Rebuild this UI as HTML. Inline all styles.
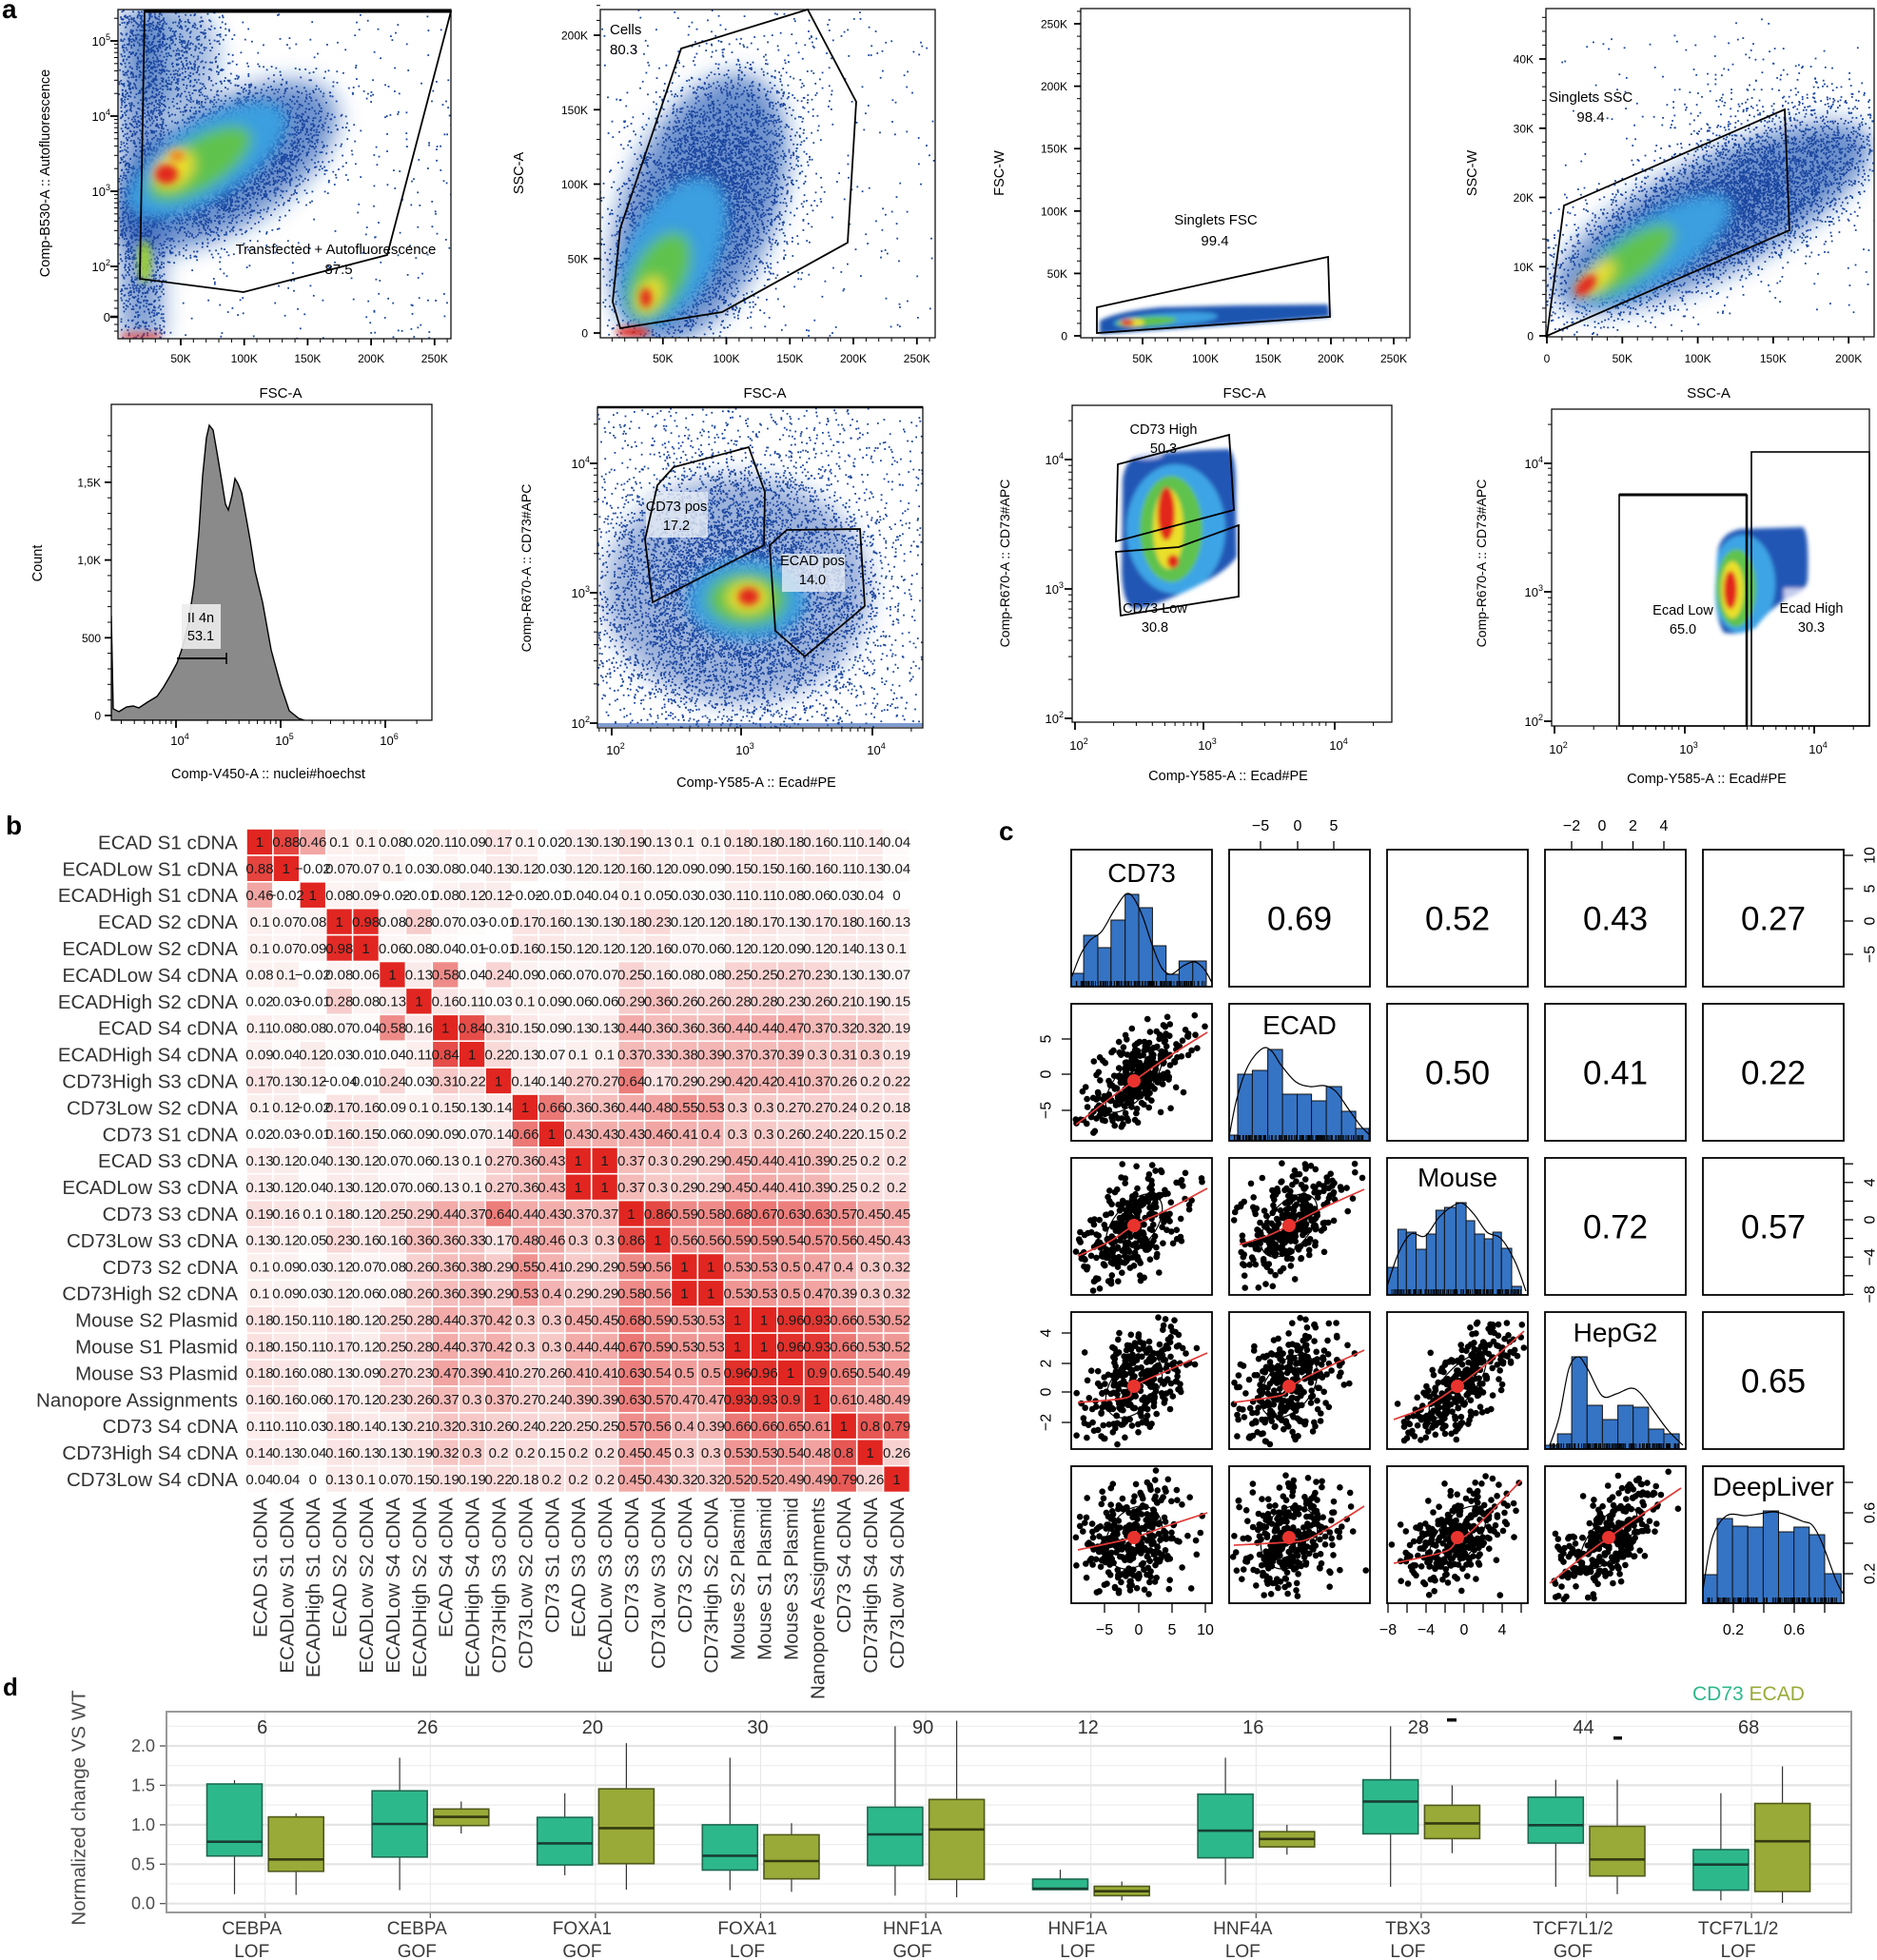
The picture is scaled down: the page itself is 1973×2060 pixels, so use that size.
<!DOCTYPE html>
<html><head><meta charset="utf-8">
<style>
html,body{margin:0;padding:0;background:#fff;width:1973px;height:2060px;overflow:hidden;}
svg{display:block;}
text{font-family:"Liberation Sans",Arial,sans-serif;}
</style></head>
<body>
<svg id="S" width="1973" height="2060" viewBox="0 0 1973 2060">
<defs>
<filter id="fb2" x="-30%" y="-30%" width="160%" height="160%"><feGaussianBlur stdDeviation="2"/></filter>
<filter id="fb4" x="-50%" y="-50%" width="200%" height="200%"><feGaussianBlur stdDeviation="4"/></filter>
<filter id="fb7" x="-50%" y="-50%" width="200%" height="200%"><feGaussianBlur stdDeviation="7"/></filter>
<filter id="fb12" x="-50%" y="-50%" width="200%" height="200%"><feGaussianBlur stdDeviation="12"/></filter>
<clipPath id="c1"><rect x="124" y="10" width="350" height="346"/></clipPath>
<clipPath id="c2"><rect x="631" y="10" width="352" height="345"/></clipPath>
<clipPath id="c3"><rect x="1136" y="9" width="346" height="346"/></clipPath>
<clipPath id="c4"><rect x="1625" y="9" width="345" height="345"/></clipPath>
<clipPath id="c5"><rect x="117" y="425" width="337" height="332"/></clipPath>
<clipPath id="c6"><rect x="628" y="428" width="342" height="337"/></clipPath>
<clipPath id="blob7"><path d="M1180,505 Q1182,482 1200,478 L1262,473 L1292,472 Q1300,480 1299,520 L1300,585 Q1290,600 1260,615 Q1220,635 1195,640 Q1180,640 1179,600 Z"/></clipPath>
<clipPath id="blob8"><path d="M1805,585 Q1806,560 1830,556 L1895,554 Q1902,560 1900,610 Q1898,622 1880,628 Q1860,640 1845,660 Q1830,668 1812,665 Q1803,650 1803,620 Z"/></clipPath>
</defs>

<!-- ============ PANEL A ============ -->
<text x="2" y="19" font-size="28" font-weight="bold">a</text>

<!-- Plot 1 -->
<g clip-path="url(#c1)">
 <g filter="url(#fb12)" fill="#1f55b0">
  <ellipse cx="235" cy="175" rx="135" ry="65" transform="rotate(-32 235 175)" opacity="0.65"/>
  <rect x="126" y="10" width="46" height="346" opacity="0.55"/>
  <ellipse cx="185" cy="60" rx="45" ry="60" opacity="0.4"/>
 </g>
 <g id="s1"></g>
 <g filter="url(#fb7)">
  <ellipse cx="218" cy="168" rx="95" ry="40" transform="rotate(-32 218 168)" fill="#3b9fe0"/>
  <ellipse cx="210" cy="172" rx="62" ry="26" transform="rotate(-32 210 172)" fill="#5ec24e"/>
  <ellipse cx="183" cy="178" rx="24" ry="17" transform="rotate(-40 183 178)" fill="#eadf2a"/>
 </g>
 <g filter="url(#fb4)">
  <ellipse cx="186" cy="164" rx="8" ry="6" fill="#f08a1e"/>
  <ellipse cx="175" cy="183" rx="12" ry="10" fill="#e2271b"/>
  <ellipse cx="152" cy="275" rx="7" ry="22" fill="#9ccf3c"/>
  <rect x="128" y="351" width="40" height="5" fill="#e2271b"/>
 </g>
</g>
<rect x="124" y="10" width="350" height="346" fill="none" stroke="#111" stroke-width="1.3"/>
<polygon points="152,12 474,12 407,268 256,307 147,293" fill="none" stroke="#000" stroke-width="1.8"/>
<line x1="152" y1="12" x2="474" y2="12" stroke="#000" stroke-width="3"/>
<text x="353" y="267" text-anchor="middle" font-size="15">Transfected + Autofluorescence</text>
<text x="356" y="288" text-anchor="middle" font-size="15">87.5</text>
<text transform="translate(48,182) rotate(-90)" text-anchor="middle" dominant-baseline="central" font-size="14.5">Comp-B530-A :: Autofluorescence</text>
<text x="295" y="418" text-anchor="middle" font-size="15">FSC-A</text>

<!-- Plot 2 -->
<g clip-path="url(#c2)">
 <g filter="url(#fb12)"><ellipse cx="735" cy="220" rx="80" ry="150" transform="rotate(22 735 220)" fill="#1f55b0" opacity="0.65"/></g>
 <g id="s2"></g>
 <g filter="url(#fb7)">
  <ellipse cx="708" cy="265" rx="45" ry="85" transform="rotate(28 708 265)" fill="#3b9fe0"/>
  <ellipse cx="693" cy="290" rx="27" ry="50" transform="rotate(28 693 290)" fill="#5ec24e"/>
  <ellipse cx="683" cy="310" rx="12" ry="20" transform="rotate(25 683 310)" fill="#eadf2a"/>
 </g>
 <g filter="url(#fb4)">
  <ellipse cx="679" cy="313" rx="6" ry="10" fill="#e2271b"/>
  <ellipse cx="665" cy="349" rx="18" ry="5" fill="#e2271b"/>
 </g>
</g>
<rect x="631" y="10" width="352" height="345" fill="none" stroke="#111" stroke-width="1.3"/>
<polygon points="652,345 644,317 652,240 716,51 849,10 900,107 891,255 759,328" fill="none" stroke="#000" stroke-width="1.8"/>
<text x="641" y="36" font-size="15">Cells</text>
<text x="641" y="57" font-size="15">80.3</text>
<text transform="translate(546,182) rotate(-90)" text-anchor="middle" dominant-baseline="central" font-size="14.5">SSC-A</text>
<text x="804" y="418" text-anchor="middle" font-size="15">FSC-A</text>

<!-- Plot 3 -->
<g clip-path="url(#c3)">
 <g filter="url(#fb2)">
  <path d="M1156,351 L1156,337 Q1175,327 1220,323 L1300,321 L1396,320 L1398,333 L1300,341 L1200,348 Z" fill="#1f55b0"/>
  <ellipse cx="1225" cy="336" rx="55" ry="7" transform="rotate(-4 1225 336)" fill="#3b9fe0"/>
  <ellipse cx="1205" cy="338" rx="32" ry="5" transform="rotate(-4 1205 338)" fill="#5ec24e"/>
  <ellipse cx="1190" cy="339" rx="13" ry="4" fill="#eadf2a"/>
  <ellipse cx="1185" cy="339" rx="7" ry="3" fill="#e2271b"/>
 </g>
</g>
<rect x="1136" y="9" width="346" height="346" fill="none" stroke="#111" stroke-width="1.3"/>
<polygon points="1153,323 1396,270 1398,333 1153,350" fill="none" stroke="#000" stroke-width="1.8"/>
<text x="1278" y="236" text-anchor="middle" font-size="15">Singlets FSC</text>
<text x="1277" y="258" text-anchor="middle" font-size="15">99.4</text>
<text transform="translate(1051,182) rotate(-90)" text-anchor="middle" dominant-baseline="central" font-size="14.5">FSC-W</text>
<text x="1308" y="418" text-anchor="middle" font-size="15">FSC-A</text>

<!-- Plot 4 -->
<g clip-path="url(#c4)">
 <g filter="url(#fb12)"><ellipse cx="1800" cy="228" rx="185" ry="60" transform="rotate(-27 1800 228)" fill="#1f55b0" opacity="0.65"/></g>
 <g id="s4"></g>
 <g filter="url(#fb7)">
  <ellipse cx="1738" cy="262" rx="95" ry="33" transform="rotate(-32 1738 262)" fill="#3b9fe0"/>
  <ellipse cx="1712" cy="274" rx="58" ry="21" transform="rotate(-36 1712 274)" fill="#5ec24e"/>
  <ellipse cx="1678" cy="292" rx="25" ry="11" transform="rotate(-42 1678 292)" fill="#eadf2a"/>
 </g>
 <g filter="url(#fb4)"><ellipse cx="1667" cy="300" rx="14" ry="7" transform="rotate(-45 1667 300)" fill="#e2271b"/></g>
</g>
<rect x="1625" y="9" width="345" height="345" fill="none" stroke="#111" stroke-width="1.3"/>
<polygon points="1626,353 1644,216 1876,115 1881,242" fill="none" stroke="#000" stroke-width="1.8"/>
<text x="1672" y="107" text-anchor="middle" font-size="15">Singlets SSC</text>
<text x="1672" y="128" text-anchor="middle" font-size="15">98.4</text>
<text transform="translate(1548,182) rotate(-90)" text-anchor="middle" dominant-baseline="central" font-size="14.5">SSC-W</text>
<text x="1796" y="418" text-anchor="middle" font-size="15">SSC-A</text>

<!-- Plot 5 histogram -->
<g clip-path="url(#c5)">
 <path d="M117,757 L117,647 L119,745 L125,748 L133,743 L140,742 L146,744 L155,738 L165,732 L172,722 L179,710 L186,697 L192,680 L198,655 L204,615 L209,560 L213,500 L217,460 L220,447 L224,452 L228,475 L233,505 L237,530 L240,536 L244,520 L247,503 L250,508 L254,518 L258,540 L263,568 L268,600 L276,633 L285,683 L295,720 L304,747 L314,755 L320,757 Z" fill="#8a8a8a" stroke="#000" stroke-width="1.4"/>
</g>
<rect x="117" y="425" width="337" height="332" fill="none" stroke="#111" stroke-width="1.3"/>
<rect x="191" y="635" width="41" height="47" fill="#ececec" opacity="0.9"/>
<line x1="186" y1="692" x2="238" y2="692" stroke="#000" stroke-width="2"/>
<line x1="238" y1="686" x2="238" y2="698" stroke="#000" stroke-width="1.5"/>
<text x="211" y="654" text-anchor="middle" font-size="14.5">II 4n</text>
<text x="211" y="673" text-anchor="middle" font-size="14.5">53.1</text>
<text transform="translate(40,592) rotate(-90)" text-anchor="middle" dominant-baseline="central" font-size="14.5">Count</text>
<text x="282" y="818" text-anchor="middle" font-size="14.5">Comp-V450-A :: nuclei#hoechst</text>

<!-- Plot 6 -->
<g clip-path="url(#c6)">
 <g filter="url(#fb12)"><ellipse cx="775" cy="620" rx="140" ry="120" fill="#1f55b0" opacity="0.45"/></g>
 <g id="s6"></g>
 <g filter="url(#fb7)">
  <ellipse cx="785" cy="630" rx="62" ry="42" fill="#3b9fe0"/>
  <ellipse cx="785" cy="630" rx="42" ry="28" fill="#5ec24e"/>
  <ellipse cx="786" cy="628" rx="22" ry="16" fill="#eadf2a"/>
 </g>
 <g filter="url(#fb4)"><ellipse cx="787" cy="627" rx="11" ry="9" fill="#e2271b"/></g>
 <rect x="628" y="760" width="342" height="4" fill="#2a5ab0" opacity="0.6"/>
</g>
<rect x="628" y="428" width="342" height="337" fill="none" stroke="#111" stroke-width="1.3"/>
<line x1="628" y1="428" x2="970" y2="428" stroke="#000" stroke-width="2.5"/>
<rect x="679" y="517" width="65" height="48" fill="#e6ecf5" opacity="0.8"/>
<rect x="822" y="582" width="66" height="40" fill="#e6ecf5" opacity="0.8"/>
<polygon points="686,633 678,567 691,510 708,491 787,470 804,517 803,573" fill="none" stroke="#000" stroke-width="1.8"/>
<polygon points="809,573 827,557 904,556 909,637 846,690 815,663" fill="none" stroke="#000" stroke-width="1.8"/>
<text x="711" y="537" text-anchor="middle" font-size="14.5">CD73 pos</text>
<text x="711" y="557" text-anchor="middle" font-size="14.5">17.2</text>
<text x="854" y="594" text-anchor="middle" font-size="14.5">ECAD pos</text>
<text x="854" y="614" text-anchor="middle" font-size="14.5">14.0</text>
<text transform="translate(553,597) rotate(-90)" text-anchor="middle" dominant-baseline="central" font-size="14">Comp-R670-A :: CD73#APC</text>
<text x="795" y="827" text-anchor="middle" font-size="14.5">Comp-Y585-A :: Ecad#PE</text>

<!-- Plot 7 -->
<g filter="url(#fb2)">
 <path d="M1180,505 Q1182,482 1200,478 L1262,473 L1292,472 Q1300,480 1299,520 L1300,585 Q1290,600 1260,615 Q1220,635 1195,640 Q1180,640 1179,600 Z" fill="#2056b5"/>
 <g clip-path="url(#blob7)">
  <ellipse cx="1236" cy="556" rx="52" ry="68" fill="#3ea4e6"/>
  <ellipse cx="1231" cy="556" rx="33" ry="56" fill="#5ec24e"/>
  <ellipse cx="1228" cy="556" rx="16" ry="42" fill="#eadf2a"/>
  <ellipse cx="1226" cy="540" rx="9" ry="28" fill="#e2271b"/>
  <ellipse cx="1233" cy="590" rx="6" ry="7" fill="#e2271b"/>
  <ellipse cx="1205" cy="477" rx="18" ry="6" fill="#b8c4ea"/>
 </g>
</g>
<rect x="1127" y="426" width="336" height="333" fill="none" stroke="#111" stroke-width="1.3"/>
<polygon points="1175,488 1292,457 1297,536 1173,569" fill="none" stroke="#000" stroke-width="1.8"/>
<polygon points="1173,580 1239,575 1302,552 1302,627 1178,647" fill="none" stroke="#000" stroke-width="1.8"/>
<text x="1223" y="456" text-anchor="middle" font-size="14.5">CD73 High</text>
<text x="1223" y="476" text-anchor="middle" font-size="14.5">50.3</text>
<text x="1214" y="644" text-anchor="middle" font-size="14.5">CD73 Low</text>
<text x="1214" y="664" text-anchor="middle" font-size="14.5">30.8</text>
<text transform="translate(1056,592) rotate(-90)" text-anchor="middle" dominant-baseline="central" font-size="14">Comp-R670-A :: CD73#APC</text>
<text x="1291" y="820" text-anchor="middle" font-size="14.5">Comp-Y585-A :: Ecad#PE</text>

<!-- Plot 8 -->
<g filter="url(#fb2)">
 <path d="M1805,585 Q1806,560 1830,556 L1895,554 Q1902,560 1900,610 Q1898,622 1880,628 Q1860,640 1845,660 Q1830,668 1812,665 Q1803,650 1803,620 Z" fill="#2056b5"/>
 <g clip-path="url(#blob8)">
  <ellipse cx="1832" cy="614" rx="34" ry="52" fill="#3ea4e6"/>
  <ellipse cx="1825" cy="618" rx="21" ry="41" fill="#5ec24e"/>
  <ellipse cx="1821" cy="620" rx="12" ry="30" fill="#eadf2a"/>
  <ellipse cx="1819" cy="620" rx="7" ry="20" fill="#e2271b"/>
  <rect x="1875" y="618" width="28" height="14" fill="#c4cbec"/>
 </g>
</g>
<rect x="1631" y="430" width="334" height="333" fill="none" stroke="#111" stroke-width="1.3"/>
<rect x="1702" y="520" width="134" height="243" fill="none" stroke="#000" stroke-width="1.6"/>
<line x1="1702" y1="520" x2="1836" y2="520" stroke="#000" stroke-width="3"/>
<line x1="1836" y1="520" x2="1836" y2="763" stroke="#000" stroke-width="2.5"/>
<rect x="1841" y="475" width="124" height="288" fill="none" stroke="#000" stroke-width="1.6"/>
<text x="1769" y="646" text-anchor="middle" font-size="14.5">Ecad Low</text>
<text x="1769" y="666" text-anchor="middle" font-size="14.5">65.0</text>
<text x="1904" y="644" text-anchor="middle" font-size="14.5">Ecad High</text>
<text x="1904" y="664" text-anchor="middle" font-size="14.5">30.3</text>
<text transform="translate(1557,592) rotate(-90)" text-anchor="middle" dominant-baseline="central" font-size="14">Comp-R670-A :: CD73#APC</text>
<text x="1794" y="823" text-anchor="middle" font-size="14.5">Comp-Y585-A :: Ecad#PE</text>

<g id="ax"></g>

<!-- ============ PANEL B ============ -->
<text x="6" y="877" font-size="28" font-weight="bold">b</text>
<g id="hm"></g>
<g font-size="20.5" fill="#333" text-anchor="end">
<text x="250" y="892.4">ECAD S1 cDNA</text>
<text x="250" y="920.3">ECADLow S1 cDNA</text>
<text x="250" y="948.2">ECADHigh S1 cDNA</text>
<text x="250" y="976.1">ECAD S2 cDNA</text>
<text x="250" y="1004">ECADLow S2 cDNA</text>
<text x="250" y="1031.9">ECADLow S4 cDNA</text>
<text x="250" y="1059.8">ECADHigh S2 cDNA</text>
<text x="250" y="1087.7">ECAD S4 cDNA</text>
<text x="250" y="1115.6">ECADHigh S4 cDNA</text>
<text x="250" y="1143.5">CD73High S3 cDNA</text>
<text x="250" y="1171.4">CD73Low S2 cDNA</text>
<text x="250" y="1199.3">CD73 S1 cDNA</text>
<text x="250" y="1227.2">ECAD S3 cDNA</text>
<text x="250" y="1255.1">ECADLow S3 cDNA</text>
<text x="250" y="1283">CD73 S3 cDNA</text>
<text x="250" y="1310.9">CD73Low S3 cDNA</text>
<text x="250" y="1338.8">CD73 S2 cDNA</text>
<text x="250" y="1366.7">CD73High S2 cDNA</text>
<text x="250" y="1394.6">Mouse S2 Plasmid</text>
<text x="250" y="1422.5">Mouse S1 Plasmid</text>
<text x="250" y="1450.4">Mouse S3 Plasmid</text>
<text x="250" y="1478.3">Nanopore Assignments</text>
<text x="250" y="1506.2">CD73 S4 cDNA</text>
<text x="250" y="1534.1">CD73High S4 cDNA</text>
<text x="250" y="1562">CD73Low S4 cDNA</text>
</g>
<g font-size="20.5" fill="#333" text-anchor="end">
<text transform="translate(280.35,1574) rotate(-90)">ECAD S1 cDNA</text>
<text transform="translate(308.25,1574) rotate(-90)">ECADLow S1 cDNA</text>
<text transform="translate(336.15,1574) rotate(-90)">ECADHigh S1 cDNA</text>
<text transform="translate(364.05,1574) rotate(-90)">ECAD S2 cDNA</text>
<text transform="translate(391.95,1574) rotate(-90)">ECADLow S2 cDNA</text>
<text transform="translate(419.85,1574) rotate(-90)">ECADLow S4 cDNA</text>
<text transform="translate(447.75,1574) rotate(-90)">ECADHigh S2 cDNA</text>
<text transform="translate(475.65,1574) rotate(-90)">ECAD S4 cDNA</text>
<text transform="translate(503.55,1574) rotate(-90)">ECADHigh S4 cDNA</text>
<text transform="translate(531.45,1574) rotate(-90)">CD73High S3 cDNA</text>
<text transform="translate(559.35,1574) rotate(-90)">CD73Low S2 cDNA</text>
<text transform="translate(587.25,1574) rotate(-90)">CD73 S1 cDNA</text>
<text transform="translate(615.15,1574) rotate(-90)">ECAD S3 cDNA</text>
<text transform="translate(643.05,1574) rotate(-90)">ECADLow S3 cDNA</text>
<text transform="translate(670.95,1574) rotate(-90)">CD73 S3 cDNA</text>
<text transform="translate(698.85,1574) rotate(-90)">CD73Low S3 cDNA</text>
<text transform="translate(726.75,1574) rotate(-90)">CD73 S2 cDNA</text>
<text transform="translate(754.65,1574) rotate(-90)">CD73High S2 cDNA</text>
<text transform="translate(782.55,1574) rotate(-90)">Mouse S2 Plasmid</text>
<text transform="translate(810.45,1574) rotate(-90)">Mouse S1 Plasmid</text>
<text transform="translate(838.35,1574) rotate(-90)">Mouse S3 Plasmid</text>
<text transform="translate(866.25,1574) rotate(-90)">Nanopore Assignments</text>
<text transform="translate(894.15,1574) rotate(-90)">CD73 S4 cDNA</text>
<text transform="translate(922.05,1574) rotate(-90)">CD73High S4 cDNA</text>
<text transform="translate(949.95,1574) rotate(-90)">CD73Low S4 cDNA</text>
</g>

<!-- ============ PANEL C ============ -->
<text x="1050" y="883" font-size="28" font-weight="bold">c</text>
<g id="pc"></g>
<g fill="none" stroke="#000" stroke-width="1.8">
<rect x="1126" y="893" width="148" height="144"/><rect x="1292" y="893" width="148" height="144"/><rect x="1458" y="893" width="148" height="144"/><rect x="1624" y="893" width="148" height="144"/><rect x="1790" y="893" width="148" height="144"/>
<rect x="1126" y="1055" width="148" height="144"/><rect x="1292" y="1055" width="148" height="144"/><rect x="1458" y="1055" width="148" height="144"/><rect x="1624" y="1055" width="148" height="144"/><rect x="1790" y="1055" width="148" height="144"/>
<rect x="1126" y="1217" width="148" height="144"/><rect x="1292" y="1217" width="148" height="144"/><rect x="1458" y="1217" width="148" height="144"/><rect x="1624" y="1217" width="148" height="144"/><rect x="1790" y="1217" width="148" height="144"/>
<rect x="1126" y="1379" width="148" height="144"/><rect x="1292" y="1379" width="148" height="144"/><rect x="1458" y="1379" width="148" height="144"/><rect x="1624" y="1379" width="148" height="144"/><rect x="1790" y="1379" width="148" height="144"/>
<rect x="1126" y="1541" width="148" height="144"/><rect x="1292" y="1541" width="148" height="144"/><rect x="1458" y="1541" width="148" height="144"/><rect x="1624" y="1541" width="148" height="144"/><rect x="1790" y="1541" width="148" height="144"/>
</g>
<g font-size="35" text-anchor="middle" fill="#000">
<text x="1366" y="977.5">0.69</text><text x="1532" y="977.5">0.52</text><text x="1698" y="977.5">0.43</text><text x="1864" y="977.5">0.27</text>
<text x="1532" y="1139.5">0.50</text><text x="1698" y="1139.5">0.41</text><text x="1864" y="1139.5">0.22</text>
<text x="1698" y="1301.5">0.72</text><text x="1864" y="1301.5">0.57</text>
<text x="1864" y="1463.5">0.65</text>
</g>
<g font-size="28" text-anchor="middle" fill="#000">
<text x="1200" y="927">CD73</text>
<text x="1366" y="1087">ECAD</text>
<text x="1532" y="1247">Mouse</text>
<text x="1698" y="1410">HepG2</text>
<text x="1864" y="1572">DeepLiver</text>
</g>
<g id="pcax"></g>

<!-- ============ PANEL D ============ -->
<text x="3" y="1782" font-size="26" font-weight="bold">d</text>
<rect x="175" y="1799" width="1771" height="211" fill="#fff"/>
<g id="pd"></g>
<rect x="175" y="1799" width="1771" height="211" fill="none" stroke="#9a9a9a" stroke-width="2"/>
<text transform="translate(83,1900) rotate(-90)" text-anchor="middle" dominant-baseline="central" font-size="20.5" fill="#4d4d4d">Normalized change VS WT</text>
<text x="1779" y="1787" font-size="21"><tspan fill="#2db88c">CD73</tspan> <tspan fill="#9aaa38">ECAD</tspan></text>
</svg>

<script>
(function(){
var seed=20240601;
function rnd(){seed|=0;seed=seed+0x6D2B79F5|0;var t=Math.imul(seed^(seed>>>15),1|seed);t=(t+Math.imul(t^(t>>>7),61|t))^t;return((t^(t>>>14))>>>0)/4294967296;}
function gs(){var u=rnd();if(u<1e-9)u=1e-9;return Math.sqrt(-2*Math.log(u))*Math.cos(6.283185307*rnd());}
function f(n){return Math.round(n*10)/10;}
var buf={};
function add(id,s){buf[id]=(buf[id]||'')+s;}
function ln(id,x1,y1,x2,y2,w,c){add(id,'<line x1="'+f(x1)+'" y1="'+f(y1)+'" x2="'+f(x2)+'" y2="'+f(y2)+'" stroke="'+(c||'#000')+'" stroke-width="'+(w||1)+'"/>');}
function tx(id,x,y,s,o){o=o||{};add(id,'<text x="'+f(x)+'" y="'+f(y)+'"'+(o.a?' text-anchor="'+o.a+'"':'')+' font-size="'+(o.s||12)+'"'+(o.c?' fill="'+o.c+'"':'')+'>'+s+'</text>');}
function rtx(id,x,y,s,sz){add(id,'<text transform="translate('+f(x)+','+f(y)+') rotate(-90)" text-anchor="middle" dominant-baseline="central" font-size="'+sz+'">'+s+'</text>');}
function sup(e){return '10<tspan dy="-6" font-size="9">'+e+'</tspan>';}

/* speckle */
function speck(id,n,cx,cy,sx,sy,ang,col,sz){var s='',a=ang*Math.PI/180,c=Math.cos(a),si=Math.sin(a);
 for(var i=0;i<n;i++){var p=gs()*sx,q=gs()*sy;var x=cx+p*c-q*si,y=cy+p*si+q*c;
 s+='<rect x="'+f(x)+'" y="'+f(y)+'" width="'+sz+'" height="'+sz+'" fill="'+col+'"/>';}add(id,s);}
function speckU(id,n,x0,y0,x1,y1,col,sz){var s='';for(var i=0;i<n;i++){var x=x0+rnd()*(x1-x0),y=y0+rnd()*(y1-y0);
 s+='<rect x="'+f(x)+'" y="'+f(y)+'" width="'+sz+'" height="'+sz+'" fill="'+col+'"/>';}add(id,s);}
var B='#1b46a0';
speck('s1',4200,235,172,58,30,-32,B,1.8);
speckU('s1',1300,126,10,172,354,B,1.8);
speck('s1',800,185,60,30,45,0,B,1.8);
speckU('s1',350,124,10,474,356,B,1.8);
speck('s2',5500,740,215,40,72,22,B,1.8);
speckU('s2',300,631,10,983,355,B,1.8);
speck('s4',6000,1795,228,88,30,-27,B,1.8);
speck('s4',700,1860,165,60,50,0,B,1.8);
speckU('s4',180,1640,40,1970,330,B,1.8);
speck('s6',7000,775,620,72,66,0,B,1.8);
speckU('s6',1200,628,428,970,765,B,1.8);

/* flow axes */
function linX(id,y,x0,ppu,majV,minStep,maxV,labs,ly){
 majV.forEach(function(v,i){var x=x0+v*ppu;ln(id,x,y,x,y+7,1.8);if(labs[i])tx(id,x,ly,labs[i],{a:'middle',s:12});});
 for(var v=minStep;v<=maxV+1e-6;v+=minStep){var x=x0+v*ppu;ln(id,x,y,x,y+4,1);}}
function linY(id,x,y0,ppu,majV,minStep,maxV,labs,lx){
 majV.forEach(function(v,i){var y=y0-v*ppu;ln(id,x,y,x-7,y,1.8);if(labs[i])tx(id,lx,y+4.5,labs[i],{a:'end',s:12});});
 for(var v=minStep;v<=maxV+1e-6;v+=minStep){var y=y0-v*ppu;ln(id,x,y,x-4,y,1);}}
function logY(id,x,maj,lo,hi,exps,lx){var st=maj[0]-maj[1];
 for(var i=-1;i<maj.length;i++){var base=(i<0?maj[0]+st:maj[i]);for(var k=2;k<10;k++){var y=base-st*Math.log10(k);if(y>=lo&&y<=hi)ln(id,x,y,x-4,y,1);}}
 maj.forEach(function(y,i){ln(id,x,y,x-8,y,1.8);tx(id,lx,y+5,sup(exps[i]),{a:'end',s:13});});}
function logX(id,y,maj,lo,hi,exps,ly){var st=maj[1]-maj[0];
 for(var i=-1;i<maj.length;i++){var base=(i<0?maj[0]-st:maj[i]);for(var k=2;k<10;k++){var x=base+st*Math.log10(k);if(x>=lo&&x<=hi)ln(id,x,y,x,y+4,1);}}
 maj.forEach(function(x,i){ln(id,x,y,x,y+8,1.8);tx(id,x+4,ly,sup(exps[i]),{a:'middle',s:13});});}
var A='ax', K5=['50K','100K','150K','200K','250K'];
logY(A,124,[280,201,122,43],10,285,['2','3','4','5'],116);
[292,304,316,324,341,348].forEach(function(y){ln(A,124,y,120,y,1);});
ln(A,124,333,116,333,2.5);tx(A,116,338,'0',{a:'end',s:13});
linX(A,356,123.3,66.7/50,[50,100,150,200,250],10,260,K5,381);
linY(A,631,350,78.25/50,[0,50,100,150,200],10,220,['0','50K','100K','150K','200K'],618);
linX(A,355,630,66.75/50,[50,100,150,200,250],10,260,K5,381);
linY(A,1136,353,65.6/50,[0,50,100,150,200,250],10,260,['0','50K','100K','150K','200K','250K'],1122);
linX(A,355,1135,66/50,[50,100,150,200,250],10,260,K5,381);
linY(A,1625,353,72.75/10,[0,10,20,30,40],2,46,['0','10K','20K','30K','40K'],1612);
linX(A,354,1626,79.3/50,[0,50,100,150,200],10,210,['0','50K','100K','150K','200K'],381);
linY(A,117,752,81.7/500,[0,500,1000,1500],100,1800,['0','500','1,0K','1,5K'],106);
logX(A,757,[185,295,405],117,454,['4','5','6'],783);
logY(A,628,[760,623,487],428,765,['2','3','4'],620);
logX(A,765,[643,779,917],628,970,['2','3','4'],793);
logY(A,1127,[755,619,483],426,759,['2','3','4'],1118);
logX(A,759,[1130,1265,1403],1127,1463,['2','3','4'],788);
logY(A,1631,[758,622,487],430,763,['2','3','4'],1622);
logX(A,763,[1634,1771,1907],1631,1965,['2','3','4'],792);

/* heatmap */
var M=[
[1,0.88,0.46,0.1,0.1,0.08,0.02,0.11,0.09,0.17,0.1,0.02,0.13,0.13,0.19,0.13,0.1,0.1,0.18,0.18,0.18,0.16,0.11,0.14,0.04],
[0.88,1,-0.02,0.07,0.07,0.1,0.03,0.08,0.04,0.13,0.12,0.03,0.12,0.12,0.16,0.12,0.09,0.09,0.15,0.15,0.16,0.16,0.11,0.13,0.04],
[0.46,-0.02,1,0.08,0.09,-0.02,-0.01,0.08,0.12,0.12,-0.02,-0.01,0.04,0.04,0.1,0.05,0.03,0.03,0.11,0.11,0.08,0.06,0.03,0.04,0],
[0.1,0.07,0.08,1,0.98,0.08,0.28,0.07,0.03,-0.01,0.17,0.16,0.13,0.13,0.18,0.23,0.12,0.12,0.18,0.17,0.13,0.17,0.18,0.16,0.13],
[0.1,0.07,0.09,0.98,1,0.06,0.08,0.04,0.01,-0.01,0.16,0.15,0.12,0.12,0.12,0.16,0.07,0.06,0.12,0.12,0.09,0.12,0.14,0.13,0.1],
[0.08,0.1,-0.02,0.08,0.06,1,0.13,0.58,0.04,0.24,0.09,0.06,0.07,0.07,0.25,0.16,0.08,0.08,0.25,0.25,0.27,0.23,0.13,0.13,0.07],
[0.02,0.03,-0.01,0.28,0.08,0.13,1,0.16,0.11,0.03,0.1,0.09,0.06,0.06,0.29,0.36,0.26,0.26,0.28,0.28,0.23,0.26,0.21,0.19,0.15],
[0.11,0.08,0.08,0.07,0.04,0.58,0.16,1,0.84,0.31,0.15,0.09,0.13,0.13,0.44,0.36,0.36,0.36,0.44,0.44,0.47,0.37,0.32,0.32,0.19],
[0.09,0.04,0.12,0.03,0.01,0.04,0.11,0.84,1,0.22,0.13,0.07,0.1,0.1,0.37,0.33,0.38,0.39,0.37,0.37,0.39,0.3,0.31,0.3,0.19],
[0.17,0.13,0.12,-0.04,0.01,0.24,0.03,0.31,0.22,1,0.14,0.14,0.27,0.27,0.64,0.17,0.29,0.29,0.42,0.42,0.41,0.37,0.26,0.2,0.22],
[0.1,0.12,-0.02,0.17,0.16,0.09,0.1,0.15,0.13,0.14,1,0.66,0.36,0.36,0.44,0.48,0.55,0.53,0.3,0.3,0.27,0.27,0.24,0.2,0.18],
[0.02,0.03,-0.01,0.16,0.15,0.06,0.09,0.09,0.07,0.14,0.66,1,0.43,0.43,0.43,0.46,0.41,0.4,0.3,0.3,0.26,0.24,0.22,0.15,0.2],
[0.13,0.12,0.04,0.13,0.12,0.07,0.06,0.13,0.1,0.27,0.36,0.43,1,1,0.37,0.3,0.29,0.29,0.45,0.44,0.41,0.39,0.25,0.2,0.2],
[0.13,0.12,0.04,0.13,0.12,0.07,0.06,0.13,0.1,0.27,0.36,0.43,1,1,0.37,0.3,0.29,0.29,0.45,0.44,0.41,0.39,0.25,0.2,0.2],
[0.19,0.16,0.1,0.18,0.12,0.25,0.29,0.44,0.37,0.64,0.44,0.43,0.37,0.37,1,0.86,0.59,0.58,0.68,0.67,0.63,0.63,0.57,0.45,0.45],
[0.13,0.12,0.05,0.23,0.16,0.16,0.36,0.36,0.33,0.17,0.48,0.46,0.3,0.3,0.86,1,0.56,0.56,0.59,0.59,0.54,0.57,0.56,0.45,0.43],
[0.1,0.09,0.03,0.12,0.07,0.08,0.26,0.36,0.38,0.29,0.55,0.41,0.29,0.29,0.59,0.56,1,1,0.53,0.53,0.5,0.47,0.4,0.3,0.32],
[0.1,0.09,0.03,0.12,0.06,0.08,0.26,0.36,0.39,0.29,0.53,0.4,0.29,0.29,0.58,0.56,1,1,0.53,0.53,0.5,0.47,0.39,0.3,0.32],
[0.18,0.15,0.11,0.18,0.12,0.25,0.28,0.44,0.37,0.42,0.3,0.3,0.45,0.45,0.68,0.59,0.53,0.53,1,1,0.96,0.93,0.66,0.53,0.52],
[0.18,0.15,0.11,0.17,0.12,0.25,0.28,0.44,0.37,0.42,0.3,0.3,0.44,0.44,0.67,0.59,0.53,0.53,1,1,0.96,0.93,0.66,0.53,0.52],
[0.18,0.16,0.08,0.13,0.09,0.27,0.23,0.47,0.39,0.41,0.27,0.26,0.41,0.41,0.63,0.54,0.5,0.5,0.96,0.96,1,0.9,0.65,0.54,0.49],
[0.16,0.16,0.06,0.17,0.12,0.23,0.26,0.37,0.3,0.37,0.27,0.24,0.39,0.39,0.63,0.57,0.47,0.47,0.93,0.93,0.9,1,0.61,0.48,0.49],
[0.11,0.11,0.03,0.18,0.14,0.13,0.21,0.32,0.31,0.26,0.24,0.22,0.25,0.25,0.57,0.56,0.4,0.39,0.66,0.66,0.65,0.61,1,0.8,0.79],
[0.14,0.13,0.04,0.16,0.13,0.13,0.19,0.32,0.3,0.2,0.2,0.15,0.2,0.2,0.45,0.45,0.3,0.3,0.53,0.53,0.54,0.48,0.8,1,0.26],
[0.04,0.04,0,0.13,0.1,0.07,0.15,0.19,0.19,0.22,0.18,0.2,0.2,0.2,0.45,0.43,0.32,0.32,0.52,0.52,0.49,0.49,0.79,0.26,1]];
function hcol(v){var t=Math.max(0,Math.min(1,v));var p=Math.pow(t,1.15);return 'rgb('+Math.round(255-30*t)+','+Math.round(255-217*p)+','+Math.round(255-222*p)+')';}
var hs='',ht='';
for(var i=0;i<25;i++)for(var j=0;j<25;j++){var v=M[i][j],x=259+27.9*j,y=871+27.9*i;
 if(v>0)hs+='<rect x="'+f(x+0.8)+'" y="'+f(y+0.8)+'" width="26.3" height="26.3" fill="'+hcol(v)+'"/>';
 ht+='<text x="'+f(x+13.95)+'" y="'+f(y+19.2)+'" text-anchor="middle" font-size="15" fill="#1a1a1a">'+(v<0?'\u2212'+String(-v):String(v))+'</text>';}
add('hm',hs+ht);

/* panel c */
function smooth(p){var d='M'+f(p[0][0])+','+f(p[0][1]);for(var i=0;i<p.length-1;i++){var p0=p[i-1]||p[i],p1=p[i],p2=p[i+1],p3=p[i+2]||p2;
 d+='C'+f(p1[0]+(p2[0]-p0[0])/6)+','+f(p1[1]+(p2[1]-p0[1])/6)+' '+f(p2[0]-(p3[0]-p1[0])/6)+','+f(p2[1]-(p3[1]-p1[1])/6)+' '+f(p2[0])+','+f(p2[1]);}return d;}
var X0=[1126,1292,1458,1624,1790],Y0=[893,1055,1217,1379,1541];
function hist(c,edges,tops,curve){var x0=X0[c],y0=Y0[c],s='';
 for(var i=0;i<tops.length;i++)s+='<rect x="'+f(x0+edges[i])+'" y="'+f(y0+tops[i])+'" width="'+f(edges[i+1]-edges[i])+'" height="'+f(144-tops[i])+'" fill="#3573c4" stroke="#111" stroke-width="1"/>';
 s+='<path d="'+smooth(curve.map(function(p){return [x0+p[0],y0+p[1]];}))+'" fill="none" stroke="#000" stroke-width="1.2"/>';
 for(var k=0;k<150;k++){var xx=x0+5+rnd()*136;s+='<line x1="'+f(xx)+'" y1="'+(y0+138)+'" x2="'+f(xx)+'" y2="'+(y0+144)+'" stroke="#000" stroke-width="0.8"/>';}
 add('pc',s);}
hist(0,[0,13.1,28,41.8,56.7,71,85.4,99.7,113.4,127.8,142],[130,90,103,74,47,61,101,131,117,117],[[0,135],[10,110],[20,95],[32,86],[45,64],[57,47],[65,50],[75,70],[85,100],[95,124],[105,131],[118,122],[130,118],[140,126],[148,140]]);
hist(1,[0,9,24.4,40.6,56.1,71.6,86.6,102.1,118.2,133.1,147],[138,74,70,48,95,95,102,87,113,131],[[0,140],[8,100],[20,65],[35,47],[45,50],[55,65],[70,82],[85,87],[100,86],[112,92],[125,110],[138,128],[148,138]]);
hist(2,[0.6,11.4,20.3,30.5,41.3,51.4,60.4,72.4,83.1,92.1,102.3,111.2,120.2,131,141.2],[115,75,78,96,80,55,52,47,66,80,85,78,95,135],[[0,135],[12,100],[25,80],[40,82],[55,62],[70,50],[80,48],[92,60],[105,78],[120,85],[135,110],[146,140]]);
hist(3,[0,13.2,28.1,44.3,60.4,76.6,92.7,108.9,125,141.1],[140,128,47,98,113,98,100,123,128],[[5,140],[15,110],[25,60],[35,47],[45,60],[60,88],[75,86],[90,80],[100,85],[115,105],[130,125],[145,140]]);
hist(4,[0,15,31.1,47.2,63.4,79.5,95.7,111.8,128,145.3],[114,55,63,64,47,69,64,72,113],[[0,130],[10,75],[25,52],[45,52],[60,50],[75,48],[90,52],[105,58],[115,62],[125,80],[140,120],[148,135]]);
function scat(r_,c_,cx,cy,r,line){var x0=X0[c_],y0=Y0[r_],s='',sx=27,sy=30;
 for(var k=0;k<330;k++){var u=gs(),v=gs();var x=cx+sx*u,y=cy-sy*(r*u+Math.sqrt(1-r*r)*v);if(x<4||x>144||y<4||y>140)continue;
  s+='<circle cx="'+f(x0+x)+'" cy="'+f(y0+y)+'" r="3.3" fill="#000"/>';}
 var a=sx*sx,dd=sy*sy,b=-r*sx*sy,m=(a+dd)/2,q=Math.sqrt((a-dd)*(a-dd)/4+b*b),th=0.5*Math.atan2(2*b,a-dd)*180/Math.PI;
 s+='<ellipse cx="'+f(x0+cx)+'" cy="'+f(y0+cy)+'" rx="'+f(1.1*Math.sqrt(m+q))+'" ry="'+f(1.1*Math.sqrt(m-q))+'" transform="rotate('+f(th)+' '+f(x0+cx)+' '+f(y0+cy)+')" fill="none" stroke="#000" stroke-width="1.2"/>';
 s+='<path d="'+smooth(line.map(function(p){return [x0+p[0],y0+p[1]];}))+'" fill="none" stroke="#e23a36" stroke-width="1.7"/>';
 s+='<circle cx="'+f(x0+cx)+'" cy="'+f(y0+cy)+'" r="7" fill="#e8332e"/>';add('pc',s);}
scat(1,0,66,81,0.69,[[5,127],[40,100],[66,81],[100,57],[143,30]]);
scat(2,0,66,71,0.52,[[7,103],[40,88],[66,71],[100,55],[143,32]]);
scat(2,1,63,71,0.50,[[11,91],[40,82],[63,71],[100,52],[142,33]]);
scat(3,0,66,78,0.43,[[7,95],[58,90],[66,78],[100,62],[143,43]]);
scat(3,1,63,78,0.41,[[5,95],[53,88],[63,80],[82,68],[142,40]]);
scat(3,2,74,78,0.72,[[7,113],[40,100],[74,78],[110,50],[144,20]]);
scat(4,0,66,75,0.27,[[7,88],[66,75],[100,63],[143,49]]);
scat(4,1,63,75,0.22,[[5,83],[60,80],[82,77],[110,62],[142,42]]);
scat(4,2,74,75,0.57,[[7,102],[60,90],[74,78],[90,67],[141,15]]);
scat(4,3,67,75,0.65,[[5,123],[40,95],[67,75],[100,52],[143,23]]);
var P='pcax',MN='\u2212';
function topT(xs,labs){xs.forEach(function(x,i){ln(P,x,884,x,893,1.3);tx(P,x,873,labs[i],{a:'middle',s:16});});}
topT([1325,1364,1402],[MN+'5','0','5']);
topT([1652,1684,1716.5,1749],[MN+'2','0','2','4']);
function rightT(ys,labs){ys.forEach(function(y,i){ln(P,1938,y,1948,y,1.3);if(labs[i])rtx(P,1966,y,labs[i],16);});}
rightT([899,934,968,1003],['10','5','0',MN+'5']);
var r3=[],l3=[];for(var v=-8;v<=6;v+=2){r3.push(1282-9.8*v);l3.push(v%4===0&&v<6?(v<0?MN+(-v):String(v)):'');}
rightT(r3,l3);
rightT([1558,1590,1622,1654],['','0.6','','0.2']);
function leftT(ys,labs){ys.forEach(function(y,i){ln(P,1116,y,1126,y,1.3);rtx(P,1100,y,labs[i],16);});}
leftT([1092,1129,1167],['5','0',MN+'5']);
leftT([1401,1433,1463,1495],['4','2','0',MN+'2']);
function botT(xs,labs){xs.forEach(function(x,i){ln(P,x,1685,x,1695,1.3);if(labs[i])tx(P,x,1718,labs[i],{a:'middle',s:16});});}
botT([1161,1197,1232,1267],[MN+'5','0','5','10']);
botT([1459,1479,1499,1519,1539,1559,1579,1599],[MN+'8','',MN+'4','','0','','4','']);
botT([1822,1854,1886,1918],['0.2','','0.6','']);

/* panel d */
var D=[
['CEBPA','LOF','6',[1.565,1.517,0.784,0.603,0.12],[1.146,1.10,0.56,0.41,0.11]],
['CEBPA','GOF','26',[1.85,1.43,1.01,0.59,0.17],[1.295,1.2,1.10,0.99,0.89]],
['FOXA1','GOF','20',[1.40,1.094,0.764,0.49,0.36],[2.035,1.456,0.957,0.507,0.177]],
['FOXA1','LOF','30',[1.85,1.0,0.607,0.426,0.17],[1.02,0.873,0.539,0.314,0.149]],
['HNF1A','GOF','90',[2.25,1.223,0.877,0.483,0.10],[2.32,1.32,0.94,0.306,0.08]],
['HNF1A','LOF','12',[0.43,0.31,0.189,0.177,0.177],[0.28,0.22,0.157,0.10,0.04]],
['HNF4A','LOF','16',[1.85,1.388,0.925,0.58,0.24],[1.0,0.913,0.82,0.72,0.62]],
['TBX3','LOF','28',[2.25,1.57,1.295,0.885,0.213],[1.50,1.247,1.018,0.825,0.64]],
['TCF7L1/2','GOF','44',[1.57,1.35,0.994,0.768,0.213],[1.57,0.98,0.56,0.35,0.12]],
['TCF7L1/2','LOF','68',[1.40,0.684,0.495,0.17,0.04],[1.74,1.27,0.79,0.153,0.008]]];
function vy(v){return 2000.7-82.85*v;}
var Q='pd';
for(var k=0;k<10;k++){var v2=k*0.25,yy=vy(v2);var mj=(k%2===0);ln(Q,176,yy,1945,yy,mj?2.2:1.2,mj?'#e4e4e4':'#eeeeee');}
for(var k=0;k<10;k++){var cc=278.7+173.6*k;ln(Q,cc,1800,cc,2009,1,'#e6e6e6');}
[0,0.5,1,1.5,2].forEach(function(v){var y=vy(v);ln(Q,168,y,175,y,1.3,'#555');tx(Q,163,y+6,v.toFixed(1),{a:'end',s:18,c:'#4d4d4d'});});
function box(c,d,fill,stroke,med){var x1=c-29;
 ln(Q,c,vy(d[0]),c,vy(d[1]),1.2,'#333');ln(Q,c,vy(d[3]),c,vy(d[4]),1.2,'#333');
 add(Q,'<rect x="'+f(x1)+'" y="'+f(vy(d[1]))+'" width="58" height="'+f(Math.max(1,vy(d[3])-vy(d[1])))+'" fill="'+fill+'" stroke="'+stroke+'" stroke-width="1.6"/>');
 ln(Q,x1,vy(d[2]),x1+58,vy(d[2]),2.6,med);}
D.forEach(function(r,k){var c=278.7+173.6*k;
 box(c-32.2,r[3],'#2db88c','#1c6a52','#173f32');
 box(c+32.5,r[4],'#9aaa38','#4f5a1a','#333a10');
 ln(Q,c,2010,c,2016,1.3,'#555');
 tx(Q,c-3,1822,r[2],{a:'middle',s:20,c:'#333'});
 tx(Q,c-14,2033,r[0],{a:'middle',s:19,c:'#3a3a3a'});
 tx(Q,c-14,2057,r[1],{a:'middle',s:19,c:'#3a3a3a'});});
add(Q,'<rect x="1521" y="1806" width="10" height="3.5" fill="#111"/><rect x="1696" y="1825" width="9" height="3.5" fill="#111"/>');

for(var key in buf){var el=document.getElementById(key);if(el)el.innerHTML=buf[key];}
})();
</script>
</body></html>
